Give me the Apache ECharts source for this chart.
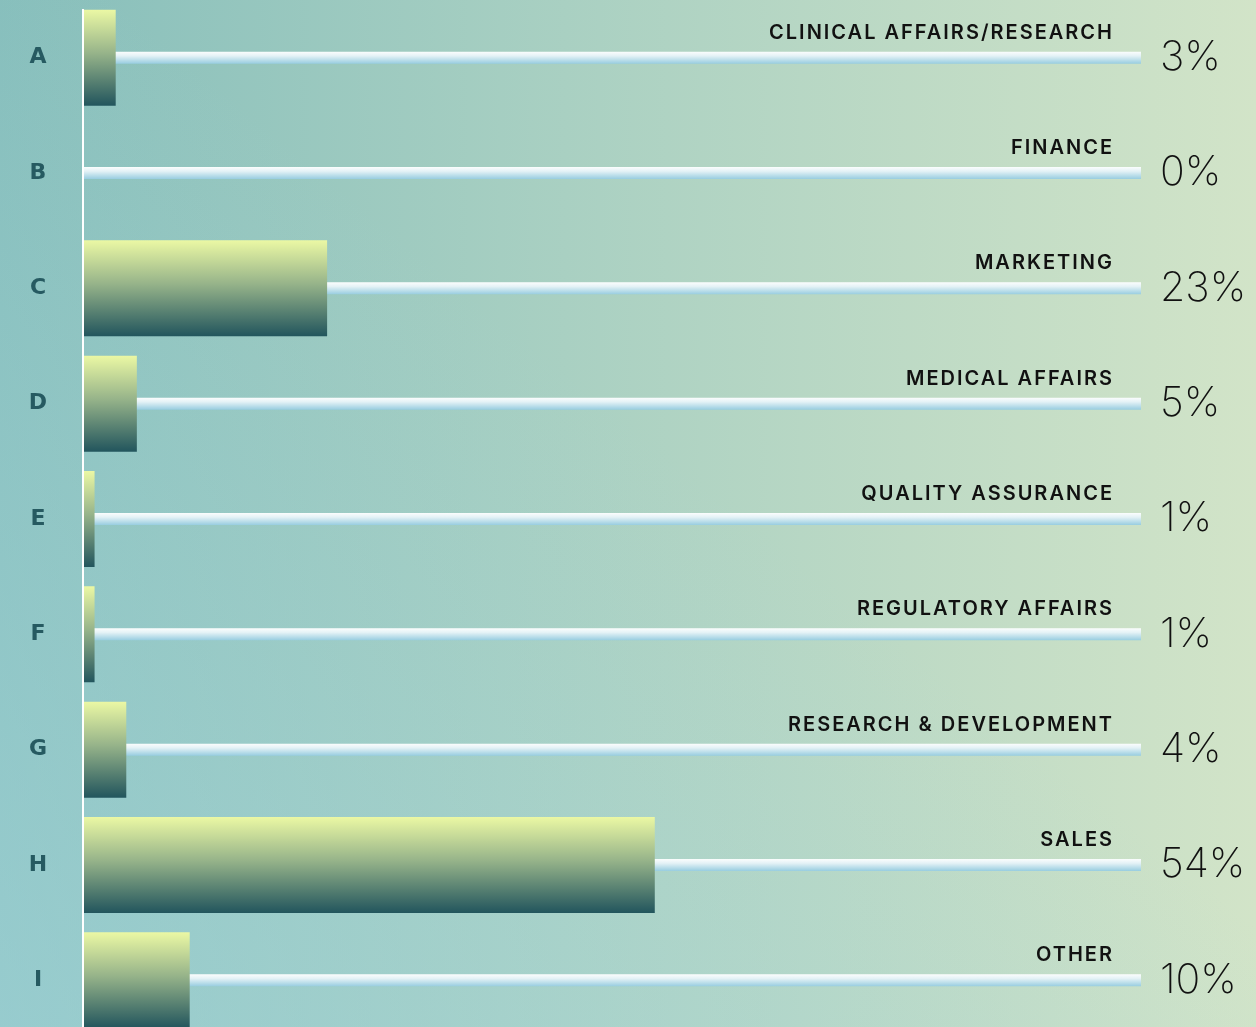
<!DOCTYPE html>
<html>
<head>
<meta charset="utf-8">
<script src="https://cdn.jsdelivr.net/npm/echarts@6/dist/echarts.min.js"></script>
<style>
  html, body { margin: 0; padding: 0; }
  #chart {
    width: 1256px;
    height: 1027px;
    background:
      linear-gradient(to top right, rgba(165,215,222,0.55) 0%, rgba(165,215,222,0) 55%),
      linear-gradient(90deg, #86bebb 0%, #a9d0c2 45%, #d2e4c8 100%);
  }
</style>
</head>
<body>
<div id="chart"></div>
<script>
// data
const letters = ['A', 'B', 'C', 'D', 'E', 'F', 'G', 'H', 'I'];
const departments = ['CLINICAL AFFAIRS/RESEARCH', 'FINANCE', 'MARKETING', 'MEDICAL AFFAIRS',
  'QUALITY ASSURANCE', 'REGULATORY AFFAIRS', 'RESEARCH & DEVELOPMENT', 'SALES', 'OTHER'];
const shares = [3, 0, 23, 5, 1, 1, 4, 54, 10];
const trackMax = 100;

// department names are letter-spaced in the original; canvas supports that,
// zrender does not, so turn it on only for the font tagged "tracked"
const origFillText = CanvasRenderingContext2D.prototype.fillText;
CanvasRenderingContext2D.prototype.fillText = function (...args) {
  if (this.font.indexOf('tracked') >= 0 && 'letterSpacing' in this) {
    const prev = this.letterSpacing;
    this.letterSpacing = '2px';
    origFillText.apply(this, args);
    this.letterSpacing = prev;
    return;
  }
  return origFillText.apply(this, args);
};

const chart = echarts.init(document.getElementById('chart'));

const option = {
  backgroundColor: 'transparent',
  animation: false,
  grid: { left: 84, top: 0, width: 1057, height: 1038, outerBoundsMode: 'none' },
  xAxis: {
    type: 'value',
    min: 0,
    max: trackMax,
    show: false
  },
  yAxis: [
    {
      type: 'category',
      data: departments,
      inverse: true,
      axisLine: { show: false },
      axisTick: { show: false },
      axisLabel: {
        margin: 46,
        align: 'center',
        formatter: (v, i) => letters[i],
        color: '#265a61',
        fontFamily: 'DejaVu Sans',
        fontWeight: 'bold',
        fontSize: 22,
        padding: [7, 0, 0, 0]
      }
    },
    {
      type: 'category',
      data: departments,
      inverse: true,
      position: 'right',
      axisLine: { show: false },
      axisTick: { show: false },
      axisLabel: {
        margin: 19,
        align: 'left',
        formatter: (v, i) => shares[i] + '%',
        color: '#111',
        fontFamily: 'Inter',
        fontWeight: 200,
        fontSize: 41,
        padding: [12, 0, 0, 0]
      }
    }
  ],
  graphic: [
    {
      type: 'rect',
      shape: { x: 82, y: 9, width: 2, height: 1030 },
      style: { fill: '#ffffff' },
      z: 10
    }
  ],
  series: [
    {
      name: 'track',
      type: 'bar',
      yAxisIndex: 1,
      data: departments.map(() => trackMax),
      barWidth: 12,
      z: 1,
      itemStyle: {
        color: new echarts.graphic.LinearGradient(0, 0, 0, 1, [
          { offset: 0, color: '#fbfdfd' },
          { offset: 0.35, color: '#e4f2f6' },
          { offset: 1, color: '#98cde0' }
        ])
      },
      label: {
        show: true,
        position: [1030, -19],
        align: 'right',
        verticalAlign: 'middle',
        formatter: (p) => departments[p.dataIndex],
        color: '#111',
        fontFamily: 'Inter, tracked',
        fontWeight: 600,
        fontSize: 20
      }
    },
    {
      name: 'share',
      type: 'bar',
      yAxisIndex: 0,
      data: shares,
      barWidth: 96,
      z: 3,
      itemStyle: {
        color: new echarts.graphic.LinearGradient(0, 0, 0, 1, [
          { offset: 0, color: '#ebf8a4' },
          { offset: 0.45, color: '#97b48a' },
          { offset: 1, color: '#22555d' }
        ])
      }
    }
  ]
};

chart.setOption(option);
</script>
</body>
</html>
